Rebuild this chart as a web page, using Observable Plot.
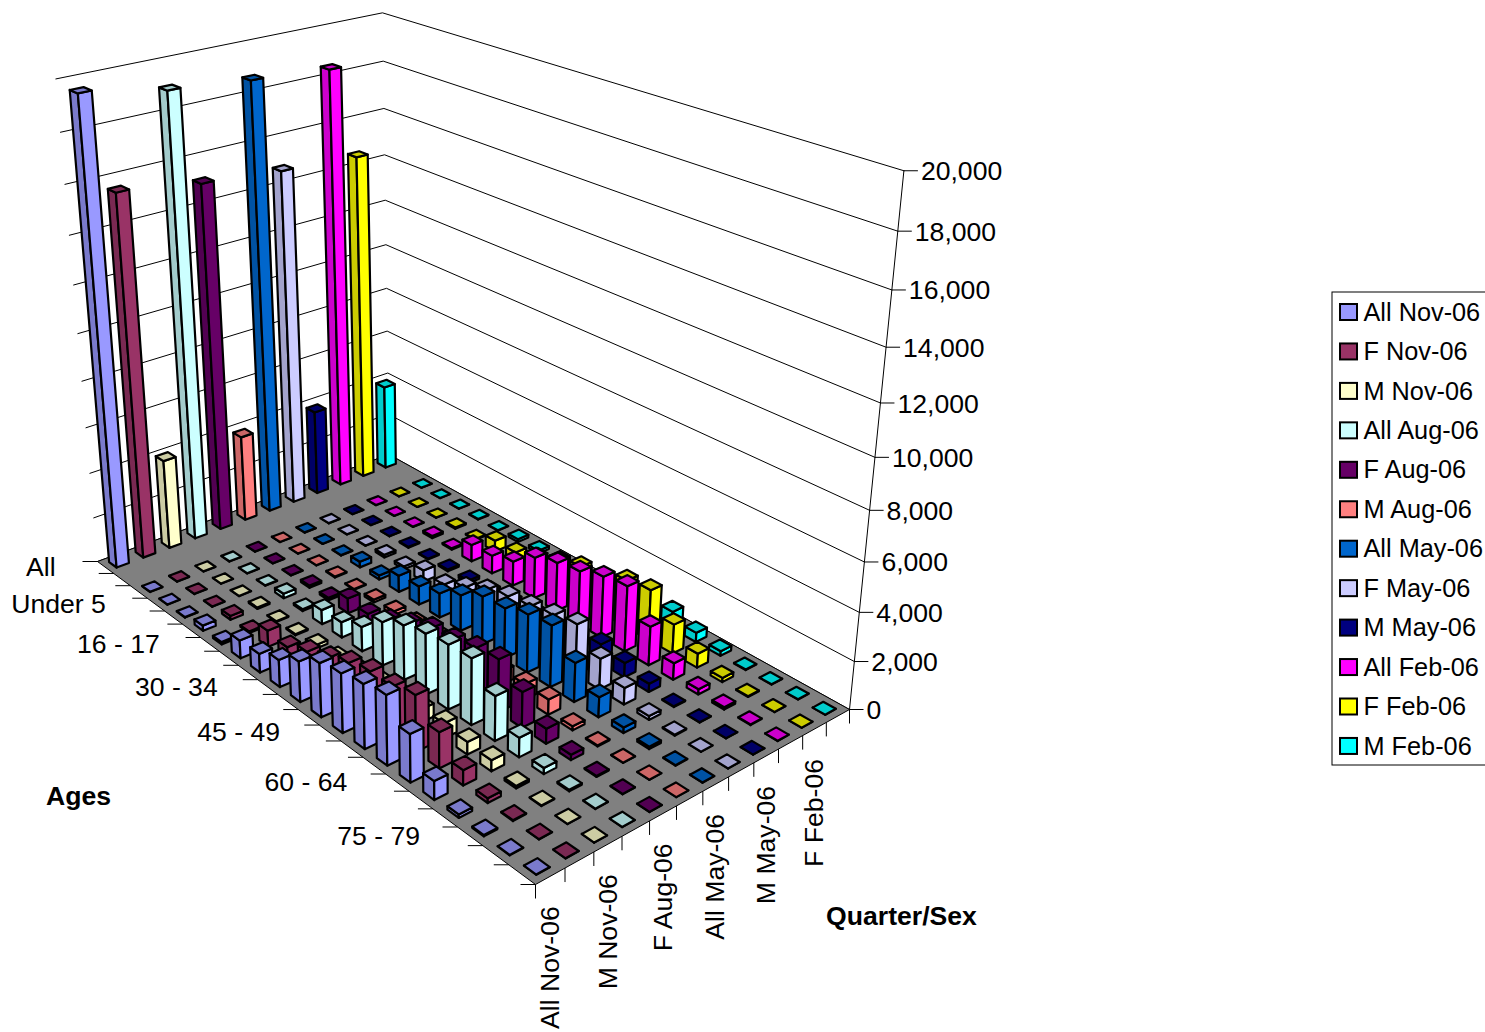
<!DOCTYPE html>
<html><head><meta charset="utf-8">
<script src="https://cdn.jsdelivr.net/npm/d3@7"></script>
<script src="https://cdn.jsdelivr.net/npm/@observablehq/plot@0.6"></script>
<style>html,body{margin:0;padding:0;background:#fff;overflow:hidden}svg{display:block}</style>
</head><body><div id="chart"></div>
<script>
const seriesNames = ["All Nov-06","F Nov-06","M Nov-06","All Aug-06","F Aug-06","M Aug-06","All May-06","F May-06","M May-06","All Feb-06","F Feb-06","M Feb-06"];
const seriesColors = ["#9999FF","#993366","#FFFFCC","#CCFFFF","#660066","#FF8080","#0066CC","#CCCCFF","#000080","#FF00FF","#FFFF00","#00FFFF"];
const ageLabels = ["All","","","Under 5","","","16 - 17","","","30 - 34","","","45 - 49","","","60 - 64","","","75 - 79","",""];
const seriesTickLabels = ["All Nov-06","","M Nov-06","","F Aug-06","","All May-06","","M May-06","","F Feb-06",""];
const zTicks = [0,2000,4000,6000,8000,10000,12000,14000,16000,18000,20000];
const allNov = [19600,0,10,10,20,230,100,770,800,1150,1700,2250,2450,2650,2850,1950,760,140,50,15,5];
const fNov   = [15560,0,10,10,15,170,70,700,580,990,1320,1740,2010,2020,2310,1470,620,190,30,10,5];
const mNov   = [3970,0,5,5,10,60,30,50,150,200,300,450,500,550,620,520,450,100,20,5,2];
const allAug = [19000,0,10,10,15,200,80,620,670,1050,1850,2300,2550,2700,2750,1850,800,250,60,15,5];
const fAug   = [15080,0,10,10,15,100,110,650,550,850,1280,1680,1800,2050,2200,1480,620,220,40,15,5];
const mAug   = [3850,0,5,5,10,40,30,120,170,230,300,420,480,560,650,640,170,40,10,5,2];
const allMay = [18700,0,10,10,20,260,180,730,810,1060,1550,2070,2140,2460,2590,1640,840,230,100,20,5];
const fMay   = [14780,0,10,10,15,120,130,500,420,850,1300,1600,1750,1950,2150,1300,700,160,40,10,5];
const mMay   = [3840,0,5,5,8,40,30,80,130,200,320,420,500,620,800,610,350,30,10,5,2];
const allFeb = [18450,0,10,10,15,100,60,750,800,1080,1800,2120,2300,2630,2790,1650,700,220,100,30,10];
const fFeb   = [14570,0,5,5,10,60,40,500,500,800,1150,1500,1550,2000,2150,1250,600,180,30,10,5];
const mFeb   = [3890,0,5,5,8,30,15,130,130,200,300,420,480,560,730,400,200,20,10,5,2];
const values = [allNov,fNov,mNov,allAug,fAug,mAug,allMay,fMay,mMay,allFeb,fFeb,mFeb];

// Camera: the chart's perspective, fitted from where its box corners fall.
const W = 1485, H = 1032, nRows = ageLabels.length, nSeries = seriesNames.length, zMax = 20000;
const floorA=[97,561], floorB=[535,884], floorC=[849,709], floorD=[388.5,454];
const topA=[55,78], topD=[383,11], topC=[902.5,172.5];
function solve(A,b){const n=b.length,M=A.map((r,i)=>[...r,b[i]]);
  for(let c=0;c<n;c++){let p=c;for(let r=c+1;r<n;r++)if(Math.abs(M[r][c])>Math.abs(M[p][c]))p=r;
    [M[c],M[p]]=[M[p],M[c]];
    for(let r=0;r<n;r++)if(r!==c){const f=M[r][c]/M[c][c];for(let k=c;k<=n;k++)M[r][k]-=f*M[c][k];}}
  return M.map((r,i)=>r[n]/r[i]);}
const fl=[[0,0,floorA],[1,0,floorB],[1,1,floorC],[0,1,floorD]];
const A8=[],b8=[];
for(const [u,v,[X,Y]] of fl){A8.push([u,v,1,0,0,0,-X*u,-X*v]);b8.push(X);A8.push([0,0,0,u,v,1,-Y*u,-Y*v]);b8.push(Y);}
const [a,b,c,d,e,f,g,h]=solve(A8,b8);
const A6=[],b6=[];
for(const [u,v,[X,Y]] of [[0,0,topA],[0,1,topD],[1,1,topC]]){
  const den=g*u+h*v+1;
  A6.push([1,0,-X]);b6.push(X*den-(a*u+b*v+c));
  A6.push([0,1,-Y]);b6.push(Y*den-(d*u+e*v+f));}
const ATA=[0,1,2].map(i=>[0,1,2].map(j=>d3.sum(A6,r=>r[i]*r[j])));
const ATb=[0,1,2].map(i=>d3.sum(A6,(r,k)=>r[i]*b6[k]));
const [al,be,ga]=solve(ATA,ATb);
function proj(u,v,w){const D=g*u+h*v+1+ga*w;return [(a*u+b*v+c+al*w)/D,(d*u+e*v+f+be*w)/D];}

// Polygons
const faces=[];let fid=0;
function face(pts,fill){const id=fid++;[...pts,pts[0]].forEach(p=>{const [x,y]=proj(...p);faces.push({id,x,y,fill});});}
const shade=(col,k)=>{const q=d3.rgb(col);return d3.rgb(q.r*k,q.g*k,q.b*k).formatHex();};
const side=0.46;
for(let r=0;r<nRows;r++)for(let s=nSeries-1;s>=0;s--){
  const val=values[s][r]; if(!val) continue;
  const u0=(r+.5-side/2)/nRows,u1=(r+.5+side/2)/nRows,v0=(s+.5-side/2)/nSeries,v1=(s+.5+side/2)/nSeries,w=val/zMax;
  const col=seriesColors[s],dk=shade(col,.8);
  face([[u0,v0,0],[u1,v0,0],[u1,v0,w],[u0,v0,w]],dk);
  face([[u1,v0,0],[u1,v1,0],[u1,v1,w],[u1,v0,w]],col);
  face([[u0,v0,w],[u1,v0,w],[u1,v1,w],[u0,v1,w]],dk);
}
const floor=[[0,0,0],[1,0,0],[1,1,0],[0,1,0],[0,0,0]].map(p=>{const [x,y]=proj(...p);return {x,y};});
const grid=zTicks.flatMap(z=>[[0,0],[0,1],[1,1]].map(([u,v])=>{const [x,y]=proj(u,v,z/zMax);return {z,x,y};}));
const zAxis=[0,zMax].map(z=>{const [x,y]=proj(1,1,z/zMax);return {x,y};});
const zLab=zTicks.map(z=>{const [x,y]=proj(1,1,z/zMax);return {z,x,y};});
const rowTicks=d3.range(nRows+1).map(r=>{const [x,y]=proj(r/nRows,0,0);return {x,y};});
const serTicks=d3.range(nSeries+1).map(s=>{const [x,y]=proj(1,s/nSeries,0);return {x,y};});
const rowLab=ageLabels.map((t,r)=>{const [x,y]=proj((r+.5)/nRows,0,0);return {t,x,y};}).filter(d=>d.t);
const serLab=seriesTickLabels.map((t,s)=>{const [x,y]=proj(1,(s+.5)/nSeries,0);return {t,x,y};}).filter(d=>d.t);
const legend=seriesNames.map((t,i)=>({t,c:seriesColors[i],y:312+i*39.45}));

const FS=26.6;
document.getElementById("chart").append(Plot.plot({
  width:W,height:H,margin:0,
  x:{domain:[0,W],range:[0,W],axis:null},
  y:{domain:[0,H],range:[0,H],axis:null},
  color:{type:"identity"},
  style:{fontFamily:"'Liberation Sans',Arial,sans-serif",background:"#fff"},
  marks:[
    Plot.line(grid,{x:"x",y:"y",z:"z",stroke:"#000",strokeWidth:1}),
    Plot.line(zAxis,{x:"x",y:"y",stroke:"#000",strokeWidth:1}),
    Plot.link(zLab,{x1:"x",y1:"y",x2:d=>d.x+14,y2:"y",stroke:"#000",strokeWidth:1}),
    Plot.text(zLab,{x:d=>d.x+17,y:d=>d.y+1,text:d=>d3.format(",")(d.z),textAnchor:"start",fontSize:FS,fill:"#000"}),
    Plot.line(floor,{x:"x",y:"y",fill:"#808080",stroke:"#000",strokeWidth:1}),
    Plot.link(rowTicks,{x1:"x",y1:"y",x2:d=>d.x-15,y2:"y",stroke:"#000",strokeWidth:1}),
    Plot.link(serTicks,{x1:"x",y1:"y",x2:"x",y2:d=>d.y+14,stroke:"#000",strokeWidth:1}),
    Plot.line(faces,{x:"x",y:"y",z:"id",fill:"fill",stroke:"#000",strokeWidth:2.2}),
    Plot.text(rowLab,{x:d=>d.x-50,y:"y",text:"t",textAnchor:"end",fontSize:FS,fill:"#000"}),
    Plot.text(serLab,{x:"x",y:d=>d.y+30,text:"t",rotate:-90,textAnchor:"end",fontSize:FS,fill:"#000"}),
    Plot.text([{t:"Ages"}],{x:()=>78,y:()=>796,text:"t",fontSize:FS,fontWeight:"bold",fill:"#000"}),
    Plot.text([{t:"Quarter/Sex"}],{x:()=>901,y:()=>916,text:"t",fontSize:FS,fontWeight:"bold",fill:"#000"}),
    Plot.rect([{}],{x1:()=>1332,x2:()=>1500,y1:()=>292,y2:()=>765,fill:"#fff",stroke:"#000",strokeWidth:1}),
    Plot.rect(legend,{x1:()=>1340,x2:()=>1357,y1:d=>d.y-8,y2:d=>d.y+8,fill:"c",stroke:"#000",strokeWidth:2}),
    Plot.text(legend,{x:()=>1363,y:"y",text:"t",textAnchor:"start",fontSize:25.3,fill:"#000"})
  ]
}));
</script></body></html>
